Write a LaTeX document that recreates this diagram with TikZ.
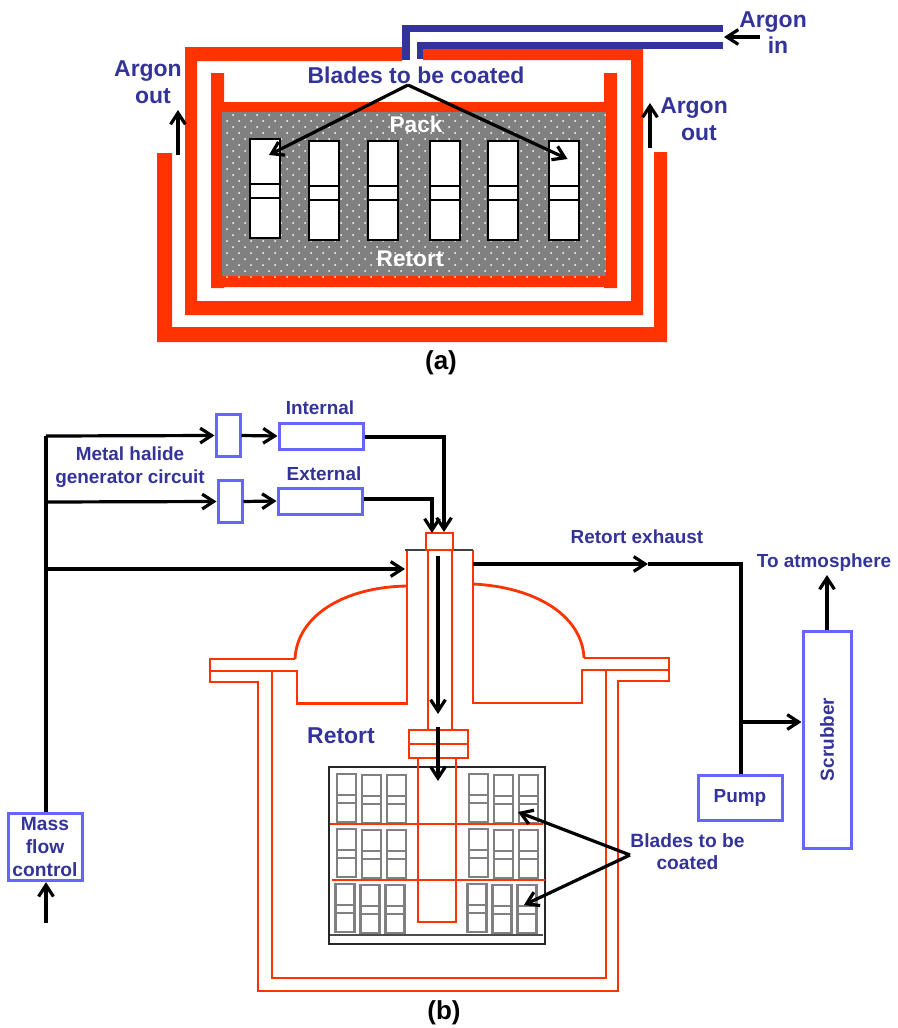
\documentclass[tikz,border=0pt]{standalone}
\usepackage{xcolor}
\usepackage{fontspec}
\setmainfont{Liberation Sans}
\usepackage{tikz}
\usetikzlibrary{arrows.meta, positioning, calc}
\definecolor{wallred}{HTML}{FF3300}
\definecolor{labelblue}{HTML}{333399}
\definecolor{boxblue}{HTML}{6666FF}
\definecolor{packgray}{HTML}{808080}
\tikzset{
  biglbl/.style={text=labelblue, font=\fontsize{17.2}{20}\selectfont\bfseries, inner sep=0pt, align=center},
  smalllbl/.style={text=labelblue, font=\fontsize{14.2}{17.2}\selectfont\bfseries, inner sep=0pt, align=center},
  whitelbl/.style={text=white, font=\fontsize{17}{20}\selectfont\bfseries, inner sep=0pt},
  caplbl/.style={text=black, font=\fontsize{19.5}{22}\selectfont\bfseries, inner sep=0pt},
  bluebox/.style={rectangle, draw=boxblue, line width=2.25pt, fill=white, inner sep=0pt},
  wall/.style={draw=wallred, line width=2.1pt, line join=miter},
  thinwall/.style={draw=wallred, line width=1pt},
  pl/.style={draw=black, line width=2.4pt},
  fl/.style={-{Straight Barb[length=3mm, width=3.9mm]}, draw=black, line width=2.4pt},
  bladea/.style={draw=black, line width=0.95pt, fill=white},
  bladeb/.style={draw=packgray, line width=2.2pt}
}
\begin{document}
\begin{tikzpicture}[x=0.75pt, y=-0.75pt]
\useasboundingbox (0,0) rectangle (897,1028);

% (a) furnace
\fill[wallred] (157,153) -- (172,153) -- (172,327) -- (654,327) -- (654,152) -- (667,152) -- (667,342) -- (157,342) -- cycle;
\fill[wallred] (402,47) -- (185,47) -- (185,315) -- (643,315) -- (643,47) -- (423,47) -- (423,60) -- (631,60) -- (631,301) -- (197,301) -- (197,61) -- (402,61) -- cycle;
\fill[wallred] (211,73) -- (224,73) -- (224,102) -- (604,102) -- (604,73) -- (617,73) -- (617,288) -- (604,288) -- (604,287) -- (224,287) -- (224,288) -- (211,288) -- cycle;
\fill[packgray] (222,112) rectangle (606,276);
\foreach \i in {0,...,31} {
  \foreach \j in {0,...,13} {
    \fill[white] ({233+\i*12},{115+\j*12}) circle (0.75pt);
    \fill[white] ({227+\i*12},{121+\j*12}) circle (0.75pt);
  }
}
\fill[labelblue] (402,25) rectangle (723,32);
\fill[labelblue] (402,25) rectangle (410,60);
\fill[labelblue] (417,42) rectangle (723,49);
\fill[labelblue] (417,42) rectangle (423,59);

\foreach \x/\y in {250/139, 309/141, 368/141, 430/141, 488/141, 549/141} {
  \draw[bladea] (\x,\y) rectangle ({\x+30},{\y+99});
  \draw[bladea] (\x,{\y+45}) rectangle ({\x+30},{\y+59});
}

\node[biglbl] (bladesa) at (416,75) {Blades to be coated};
\node[whitelbl] (pack) at (416,124) {Pack};
\node[whitelbl] (retorta) at (410,259) {Retort};
\node[biglbl] (outl) at (148,82.5) {Argon\\\hspace*{7.5pt}out};
\node[biglbl] (outr) at (694,119.5) {Argon\\\hspace*{7.5pt}out};
\node[biglbl] (argin) at (773,32.5) {Argon\\\hspace*{7.5pt}in};
\node[caplbl] (capa) at (441,363) {(a)};

\coordinate (apex) at (408,85);
\coordinate (tipl) at (269,155);
\coordinate (tipr) at (567.5,159);
\draw[fl] (apex) -- (tipl);
\draw[fl] (apex) -- (tipr);
\coordinate (outls) at (178,155);
\coordinate (outle) at (178,110);
\coordinate (outrs) at (650,148);
\coordinate (outre) at (650,103);
\coordinate (ins) at (760,37);
\coordinate (ine) at (724,37);
\draw[fl] (outls) -- (outle);
\draw[fl] (outrs) -- (outre);
\draw[fl] (ins) -- (ine);

% (b) retort vessel
\draw[wall] (407,550) -- (407,703.5) -- (297,703.5) -- (297,671) -- (210,671) -- (210,659) -- (295,659);
\draw[wall] (210,671) -- (210,682) -- (258,682) -- (258,991) -- (618,991) -- (618,681) -- (669,681) -- (669,658) -- (584,658);
\draw[wall] (272,671) -- (272,978) -- (606,978) -- (606,670);
\draw[wall] (669,670) -- (582,670) -- (582,703) -- (473,703) -- (473,550);
\draw[wall] (407,586) .. controls (345,587) and (297,615) .. (295,659);
\draw[wall] (473,584) .. controls (535,587) and (582,615) .. (584,658);
\draw[wall] (428,550) -- (428,730);
\draw[wall] (452,550) -- (452,730);
\draw[draw=black!75, line width=1pt] (405,550) -- (473,550);
\draw[wall] (426,533) rectangle (453,550);
\draw[wall] (409,730) rectangle (468,744);
\draw[wall] (409,744) rectangle (468,758);

% (b) blade stack
\draw[draw=black!85, line width=0.9pt] (329,767) rectangle (545,944);
\foreach \x/\dx in {337/0, 362/1, 387/1, 469/0, 494/1, 519/1} {
  \foreach \y/\dy in {774/0, 829/0, 884/-1.5} {
    \draw[bladeb] ({\x+\dy},{\y+\dx}) rectangle ({\x+\dy+19},{\y+\dx+48});
    \draw[bladeb] ({\x+\dy},{\y+\dx+21}) rectangle ({\x+\dy+19},{\y+\dx+29});
  }
}
\draw[draw=black!70, line width=0.9pt] (330,935) -- (543,935);
\draw[thinwall] (330,824) -- (543,824);
\draw[thinwall] (332,880) -- (545,880);
\draw[wall] (418,758) -- (418,922) -- (456,922) -- (456,758);

% (b) gas circuit
\node[bluebox, minimum width=18pt, minimum height=32pt] (valvei) at (228,435.5) {};
\node[bluebox, minimum width=18pt, minimum height=32pt] (valvee) at (230,501.5) {};
\node[bluebox, minimum width=63pt, minimum height=19.5pt] (boxi) at (321,436) {};
\node[bluebox, minimum width=63pt, minimum height=19.5pt] (boxe) at (320,501) {};
\node[bluebox, minimum width=55.5pt, minimum height=50.5pt, align=center, text=labelblue,
      font=\fontsize{14.4}{17.5}\selectfont\bfseries] (mfc) at (45,847) {Mass\\flow\\control};
\node[bluebox, minimum width=63pt, minimum height=33.75pt, text=labelblue,
      font=\fontsize{14.2}{17}\selectfont\bfseries] (pump) at (740,797.5) {Pump};
\node[bluebox, minimum width=36pt, minimum height=162.75pt, text=labelblue,
      font=\fontsize{14.2}{17}\selectfont\bfseries] (scrub) at (827,739.5) {\rotatebox{90}{Scrubber}};

\node[smalllbl] (lint) at (320,408) {Internal};
\node[smalllbl] (lext) at (324,474) {External};
\node[smalllbl] (lmetal) at (130,467.5) {Metal halide\\generator circuit};
\node[smalllbl] (lexh) at (637,537) {Retort exhaust};
\node[smalllbl] (latm) at (824,563) {To atmosphere};
\node[biglbl] (lret) at (341,736) {Retort};
\node[smalllbl, font=\fontsize{14.4}{16.5}\selectfont\bfseries] (lblb) at (687.5,852) {Blades to be\\coated};
\node[caplbl] (capb) at (444,1013) {(b)};

\coordinate (busa) at (46,436);
\coordinate (busb) at (46,502);
\coordinate (busc) at (46,569);
\coordinate (inlet) at (405,569);
\coordinate (feedi) at (444,437);
\coordinate (feede) at (432,499);
\coordinate (tipi) at (444,532);
\coordinate (tipe) at (432,533);
\coordinate (lancea) at (438,556);
\coordinate (lanceb) at (438,714);
\coordinate (lancec) at (438,727);
\coordinate (lanced) at (438,781);
\coordinate (exh) at (473,564);
\coordinate (exhm) at (648,564);
\coordinate (exhc) at (741,564);
\coordinate (brch) at (741,722);
\coordinate (atm) at (827,575);
\coordinate (mfcin) at (46,923);
\coordinate (bapex) at (630,855);
\coordinate (btipa) at (518,812);
\coordinate (btipb) at (524,905);

\draw[pl] (mfc.north -| busa) -- (busa);
\draw[fl] (busa) -- (valvei.west);
\draw[fl] (valvei.east) -- (boxi.west);
\draw[fl] (boxi.east |- feedi) -- (feedi) -- (tipi);
\draw[fl] (busb) -- (valvee.west);
\draw[fl] (valvee.east) -- (boxe.west);
\draw[fl] (boxe.east |- feede) -- (feede) -- (tipe);
\draw[fl] (busc) -- (inlet);
\draw[fl] (lancea) -- (lanceb);
\draw[fl] (lancec) -- (lanced);
\draw[fl] (exh) -- (exhm);
\draw[pl] (exhm) -- (exhc) -- (pump.north -| exhc);
\draw[fl] (brch) -- (brch -| scrub.west);
\draw[fl] (scrub.north) -- (atm);
\draw[fl] (mfcin) -- (mfc.south -| mfcin);
\draw[fl] (bapex) -- (btipa);
\draw[fl] (bapex) -- (btipb);
\end{tikzpicture}
\end{document}
